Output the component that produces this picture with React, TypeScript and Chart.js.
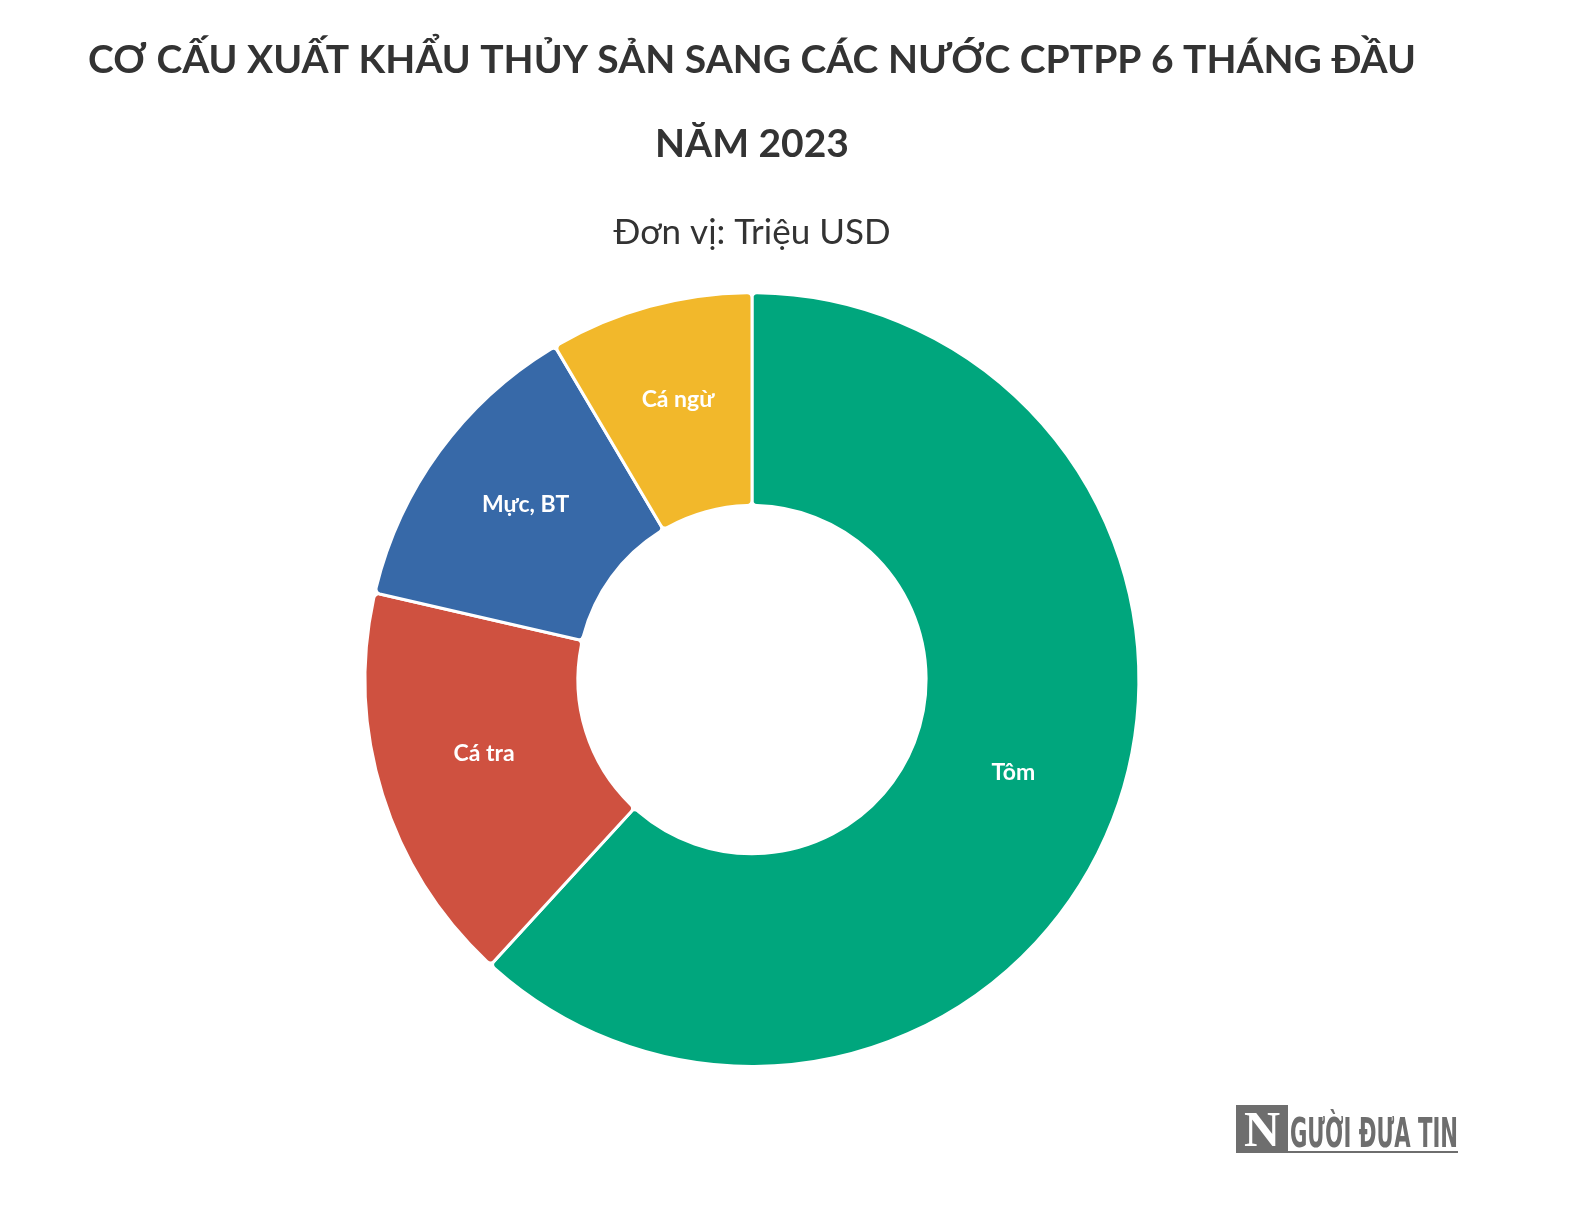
import React, { useEffect, useRef } from "react";
import { Chart, registerables } from "chart.js";

Chart.register(...registerables);

const categories = ["Tôm", "Cá tra", "Mực, BT", "Cá ngừ"];
const values = [618, 168, 129, 85];
const colors = ["#00A67D", "#CF5140", "#3769A8", "#F2B82B"];
const titleLines = ["CƠ CẤU XUẤT KHẨU THỦY SẢN SANG CÁC NƯỚC CPTPP 6 THÁNG ĐẦU", "NĂM 2023"];
const subtitleText = "Đơn vị: Triệu USD";
const watermarkText = "GƯỜI ĐƯA TIN";

const sliceLabels = {
  id: "sliceLabels",
  afterDatasetsDraw(chart: any) {
    const ctx = chart.ctx;
    const meta = chart.getDatasetMeta(0);
    ctx.save();
    ctx.fillStyle = "#ffffff";
    ctx.font = "bold 23px Lato";
    ctx.textAlign = "center";
    ctx.textBaseline = "middle";
    meta.data.forEach((arc: any, i: number) => {
      const p = arc.tooltipPosition();
      ctx.fillText(chart.data.labels[i], p.x, p.y - 9);
    });
    ctx.restore();
  },
};

const watermark = {
  id: "watermark",
  afterDraw(chart: any) {
    const ctx = chart.ctx;
    ctx.save();
    const gray = "#6e6e6e";
    ctx.fillStyle = gray;
    ctx.fillRect(1236, 1105, 52, 46);
    ctx.fillStyle = "#ffffff";
    ctx.font = "bold 50px 'Liberation Serif'";
    ctx.textAlign = "center";
    ctx.textBaseline = "alphabetic";
    ctx.fillText("N", 1262, 1146);
    ctx.fillStyle = gray;
    ctx.font = "bold 40px 'DejaVu Sans'";
    ctx.textAlign = "left";
    const w = ctx.measureText(watermarkText).width;
    ctx.translate(1290, 1147);
    ctx.scale(168 / w, 1);
    ctx.fillText(watermarkText, 0, 0);
    ctx.restore();
    ctx.save();
    ctx.fillStyle = gray;
    ctx.fillRect(1236, 1151, 222, 2);
    ctx.restore();
  },
};

export default function App() {
  const ref = useRef<HTMLCanvasElement>(null);
  useEffect(() => {
    const chart = new Chart(ref.current as HTMLCanvasElement, {
      type: "doughnut",
      data: {
        labels: categories,
        datasets: [
          {
            data: values,
            backgroundColor: colors,
            borderColor: "#ffffff",
            borderWidth: 3,
            borderRadius: 5,
          },
        ],
      },
      options: {
        responsive: false,
        animation: false,
        cutout: "45%",
        layout: { padding: { top: 0, left: 0, right: 72, bottom: 150 } },
        plugins: {
          legend: { display: false },
          tooltip: { enabled: false },
          title: {
            display: true,
            text: titleLines,
            color: "#333333",
            font: { family: "Lato", size: 39, weight: "bold", lineHeight: "83.7px" },
            padding: { top: 18.5, bottom: 0 },
          },
          subtitle: {
            display: true,
            text: subtitleText,
            color: "#333333",
            font: { family: "Lato", size: 35, weight: "normal", lineHeight: "40px" },
            padding: { top: 27.3, bottom: 38 },
          },
        },
      },
      plugins: [sliceLabels, watermark],
    });
    return () => chart.destroy();
  }, []);
  return (
    <div style={{ position: "absolute", left: 0, top: 0, width: 1576, height: 1218, background: "#ffffff" }}>
      <canvas ref={ref} width={1576} height={1218} />
    </div>
  );
}
